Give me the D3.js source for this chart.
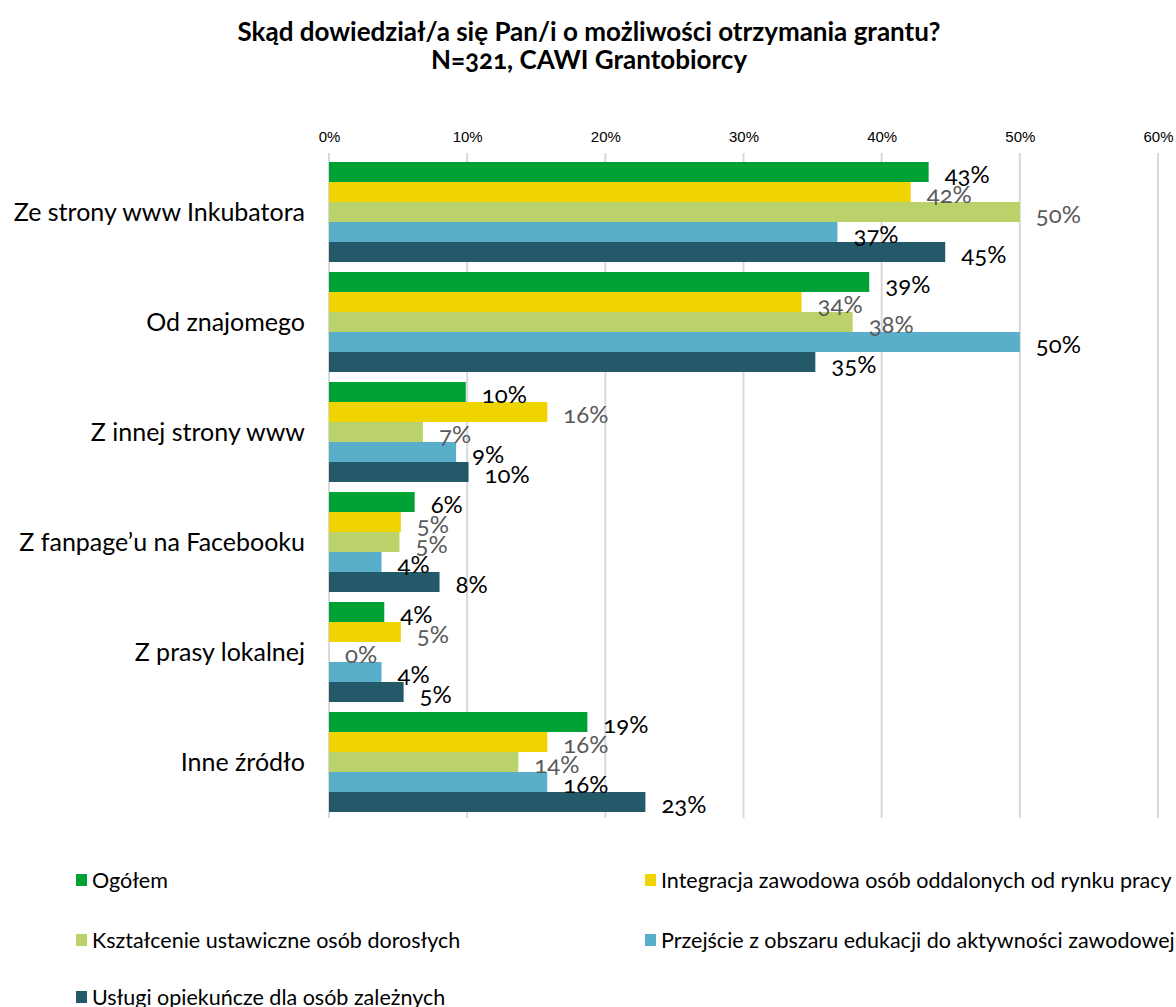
<!DOCTYPE html>
<html>
<head>
<meta charset="utf-8">
<script src="https://cdn.jsdelivr.net/npm/d3@7"></script>
<style>
  body { margin: 0; background: #fff; }
  svg { display: block; }
  .hum { font-family: Lato, "Open Sans", sans-serif; font-variant-numeric: oldstyle-nums; font-feature-settings: "onum" 1; }
  .tick text { font-family: "Liberation Sans", Arial, sans-serif; }
</style>
</head>
<body>
<svg id="chart" width="1176" height="1007"></svg>
<script>
// Survey answers: where grant recipients learned about the grant (share, %)
const categories = [
  "Ze strony www Inkubatora",
  "Od znajomego",
  "Z innej strony www",
  "Z fanpage\u2019u na Facebooku",
  "Z prasy lokalnej",
  "Inne \u017ar\u00f3d\u0142o"
];
const seriesNames = [
  "Og\u00f3\u0142em",
  "Integracja zawodowa os\u00f3b oddalonych od rynku pracy",
  "Kszta\u0142cenie ustawiczne os\u00f3b doros\u0142ych",
  "Przej\u015bcie z obszaru edukacji do aktywno\u015bci zawodowej",
  "Us\u0142ugi opieku\u0144cze dla os\u00f3b zale\u017cnych"
];
const ogolem      = [43.4, 39.1,  9.9, 6.2, 4.0, 18.7];
const integracja  = [42.1, 34.2, 15.8, 5.2, 5.2, 15.8];
const ksztalcenie = [50.0, 37.9,  6.8, 5.1, 0.0, 13.7];
const przejscie   = [36.8, 50.0,  9.2, 3.8, 3.8, 15.8];
const uslugi      = [44.6, 35.2, 10.1, 8.0, 5.4, 22.9];
const seriesValues = [ogolem, integracja, ksztalcenie, przejscie, uslugi];
const tickValues = [0, 10, 20, 30, 40, 50, 60];

const colors = ["#00a135", "#f0d400", "#bbd16a", "#59afca", "#235969"];
const labelColors = ["#000000", "#595959", "#595959", "#000000", "#000000"];

const svg = d3.select("#chart");

// Title
const title = svg.append("text")
  .attr("class", "hum")
  .attr("text-anchor", "middle")
  .attr("font-weight", "bold")
  .attr("font-size", 26)
  .attr("fill", "#000");
title.append("tspan").attr("x", 589).attr("y", 41)
  .text("Sk\u0105d dowiedzia\u0142/a si\u0119 Pan/i o mo\u017cliwo\u015bci otrzymania grantu?");
title.append("tspan").attr("x", 589).attr("y", 69)
  .text("N=321, CAWI Grantobiorcy");

// Scales
const x = d3.scaleLinear().domain([0, 60]).range([329, 1158]);
const y = d3.scaleBand().domain(categories).range([157, 817]).paddingInner(10 / 110).paddingOuter(5 / 110);
const ySub = d3.scaleBand().domain(d3.range(seriesNames.length)).range([0, y.bandwidth()]);

// Vertical gridlines
svg.append("g")
  .selectAll("line")
  .data(tickValues)
  .join("line")
  .attr("x1", d => x(d)).attr("x2", d => x(d))
  .attr("y1", 153).attr("y2", 818)
  .attr("stroke", "#d9d9d9")
  .attr("stroke-width", 2);

// Top axis labels
const axis = svg.append("g")
  .attr("transform", "translate(0,142)")
  .call(d3.axisTop(x).tickValues(tickValues).tickFormat(d => d + "%").tickSize(0).tickPadding(0));
axis.select(".domain").remove();
axis.selectAll("text").attr("font-size", 15).attr("fill", "#000");

// Bars
const groups = svg.append("g")
  .selectAll("g")
  .data(categories)
  .join("g")
  .attr("transform", d => `translate(0,${y(d)})`);

groups.each(function (cat, ci) {
  const g = d3.select(this);
  seriesValues.forEach((vals, si) => {
    g.append("rect")
      .attr("x", x(0))
      .attr("y", ySub(si))
      .attr("width", x(vals[ci]) - x(0))
      .attr("height", ySub.bandwidth())
      .attr("fill", colors[si]);
  });
  seriesValues.forEach((vals, si) => {
    g.append("text")
      .attr("class", "hum")
      .attr("x", x(vals[ci]) + 16)
      .attr("y", ySub(si) + ySub.bandwidth() / 2 + 3)
      .attr("dy", "0.35em")
      .attr("font-size", 24)
      .attr("fill", labelColors[si])
      .text(Math.round(vals[ci]) + "%");
  });
});

// Category labels
svg.append("g")
  .selectAll("text")
  .data(categories)
  .join("text")
  .attr("class", "hum")
  .attr("x", 305)
  .attr("y", d => y(d) + y.bandwidth() / 2)
  .attr("dy", "0.35em")
  .attr("text-anchor", "end")
  .attr("font-size", 25)
  .attr("fill", "#000")
  .text(d => d);

// Legend: two columns
const legendPos = [
  [76, 880], [645, 880],
  [76, 940], [645, 940],
  [76, 997]
];
const legend = svg.append("g")
  .selectAll("g")
  .data(seriesNames)
  .join("g")
  .attr("transform", (d, i) => `translate(${legendPos[i][0]},${legendPos[i][1]})`);
legend.append("rect")
  .attr("x", 0).attr("y", -6)
  .attr("width", 11).attr("height", 12)
  .attr("fill", (d, i) => colors[i]);
legend.append("text")
  .attr("class", "hum")
  .attr("x", 16)
  .attr("dy", "0.35em")
  .attr("font-size", 21.5)
  .attr("fill", "#000")
  .text(d => d);
</script>
</body>
</html>
